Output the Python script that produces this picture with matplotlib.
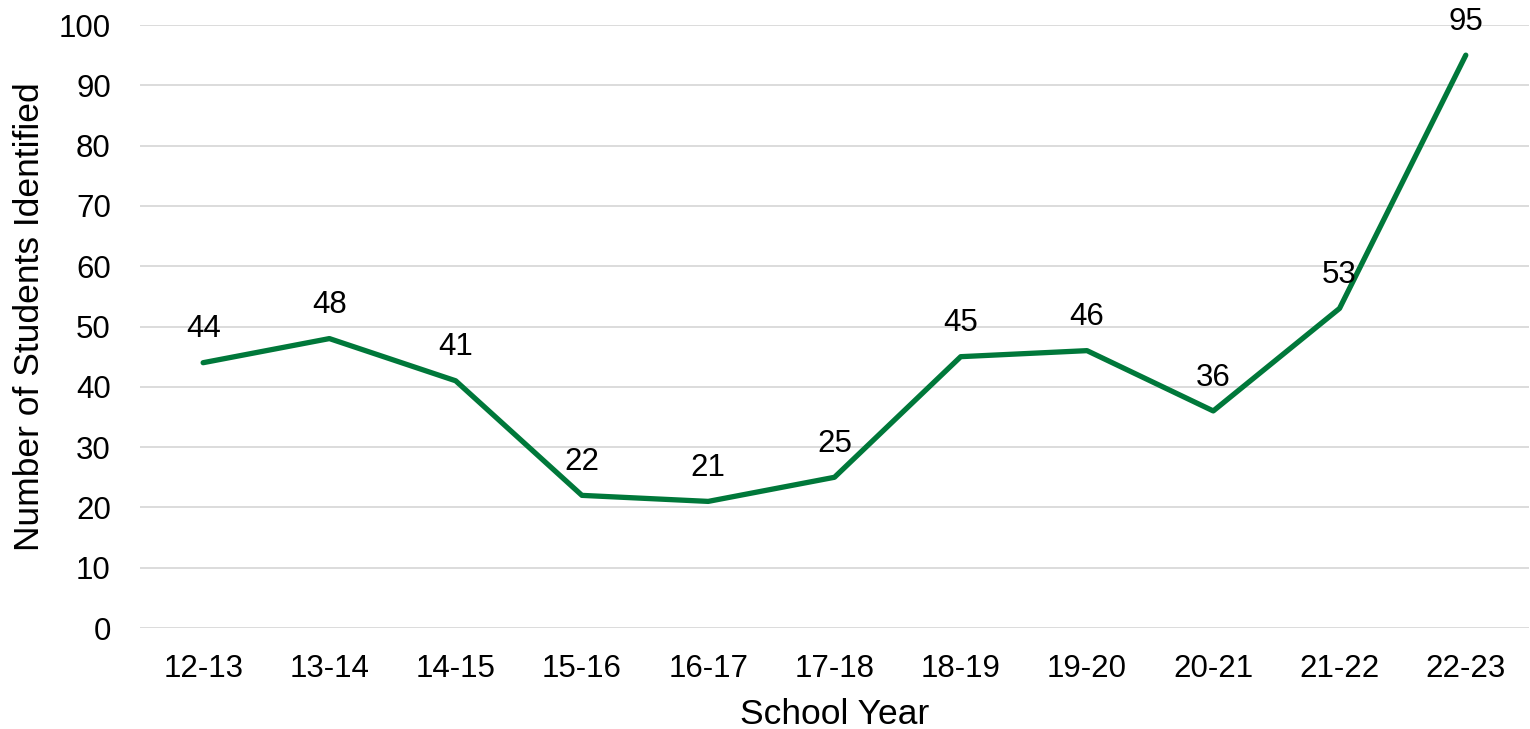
import matplotlib
matplotlib.use("Agg")
import matplotlib.pyplot as plt

years = ["12-13", "13-14", "14-15", "15-16", "16-17", "17-18",
         "18-19", "19-20", "20-21", "21-22", "22-23"]
students = [44, 48, 41, 22, 21, 25, 45, 46, 36, 53, 95]

plt.rcParams['font.family'] = ['Liberation Sans', 'DejaVu Sans']

fig = plt.figure(figsize=(15.3, 7.29), dpi=100)
ax = fig.add_axes([0.0915, 0.1385, 0.9078, 0.8272])

x = list(range(len(years)))
ax.plot(x, students, color='#00783A', linewidth=3.8, solid_capstyle='round', zorder=3)

# data labels above each point
for xi, v in zip(x, students):
    ax.annotate(str(v), (xi, v), xytext=(0, 24), textcoords='offset points',
                ha='center', va='center', fontsize=22.5, color='#000000')

ax.set_xlim(-0.5, len(years) - 0.5)
ax.set_ylim(0, 100)
ax.set_yticks(range(0, 101, 10))
ax.set_xticks(x)
ax.set_xticklabels(years)
ax.grid(axis='y', color='#D9D9D9', linewidth=1.3)
ax.set_axisbelow(True)
for s in ax.spines.values():
    s.set_visible(False)
ax.tick_params(axis='both', length=0, labelsize=22.5)
ax.tick_params(axis='y', pad=21)
ax.tick_params(axis='x', pad=19)

ax.set_xlabel("School Year", fontsize=25.5, labelpad=10)
ax.set_ylabel("Number of Students Identified", fontsize=25.5)
ax.yaxis.set_label_coords(-0.0675, 0.517)

fig.savefig("out.png", dpi=100)
